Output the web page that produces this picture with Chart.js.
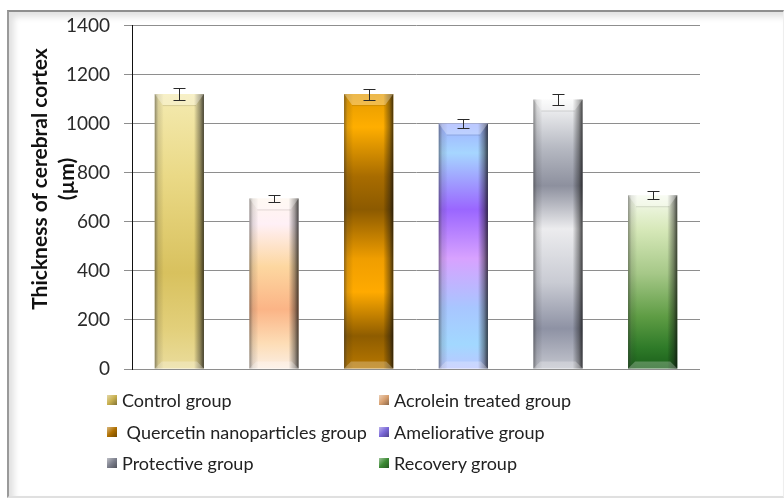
<!DOCTYPE html>
<html>
<head>
<meta charset="utf-8">
<script src="https://cdn.jsdelivr.net/npm/chart.js@4/dist/chart.umd.min.js"></script>
<style>
  html, body { margin: 0; padding: 0; background: #fff; }
  body { width: 784px; height: 499px; position: relative; overflow: hidden; font-family: Lato, "Open Sans", sans-serif; }
  #frame { position: absolute; left: 7px; top: 10px; width: 774px; height: 484px;
    border-left: 2px solid #9a9a9a; border-top: 2px solid #8e8e8e; border-right: 1px solid #eeeeee; border-bottom: 2px solid #e0e0e0;
    box-shadow: inset 5px 5px 6px rgba(0,0,0,0.12); }
  #wrap { position: absolute; left: 0; top: 0; width: 784px; height: 499px; }
  #ytitle { position: absolute; left: 52px; top: 179px; width: 340px; transform: translate(-50%, -50%) rotate(-90deg);
    text-align: center; font-weight: bold; font-size: 21px; line-height: 27px; color: #111; }
  #legend { position: absolute; left: 0; top: 0; width: 784px; height: 499px; pointer-events: none; }
  .item { position: absolute; font-size: 18px; color: #222; white-space: pre; line-height: 20px; }
  .mk { position: absolute; width: 10px; height: 10px; }
</style>
</head>
<body>
<div id="frame"></div>
<div id="wrap"><canvas id="c" width="784" height="499"></canvas></div>
<div id="ytitle">Thickness of cerebral cortex<br>(µm)</div>
<div id="legend"></div>
<script>
// ---- data ----
const categories = ["Control group", "Acrolein treated group", " Quercetin nanoparticles group", "Ameliorative group", "Protective group", "Recovery group"];
const thickness = [1120, 695, 1120, 1000, 1098, 708];
const errors = [24, 15, 22, 20, 24, 16];
const yTicks = [0, 200, 400, 600, 800, 1000, 1200, 1400];

// ---- styles (vertical colour stops from bar top (0) to bar bottom (1)) ----
const barStops = [
  [[0, "#f4eab0"], [0.3, "#ead986"], [0.65, "#d8c15e"], [0.85, "#e2cf7a"], [1, "#eadc9c"]],
  [[0, "#fff6ee"], [0.15, "#fff0f6"], [0.4, "#fdd7a0"], [0.65, "#fbb486"], [0.85, "#fdddb6"], [1, "#fbeee4"]],
  [[0, "#e49a00"], [0.12, "#ffae00"], [0.3, "#a86c00"], [0.42, "#8c5a00"], [0.6, "#f09e00"], [0.72, "#ffaa00"], [0.88, "#8e5c00"], [1, "#b87800"]],
  [[0, "#9fb0ff"], [0.12, "#a6d6ff"], [0.35, "#9a66ff"], [0.55, "#d8a2ff"], [0.75, "#a8c6ff"], [0.9, "#a2d8ff"], [1, "#bcc6ff"]],
  [[0, "#fafafa"], [0.18, "#b6b9c2"], [0.32, "#8d909e"], [0.48, "#ececee"], [0.68, "#c9cbd3"], [0.85, "#8e92a4"], [1, "#c4c6ce"]],
  [[0, "#f6faee"], [0.2, "#d6e8b8"], [0.45, "#a6c888"], [0.7, "#5e9c44"], [0.88, "#2e7a28"], [1, "#1a5e1a"]]
];
const legendMarks = ["#c8b050", "#d8a070", "#b07000", "#7a68d8", "#7c7f8c", "#3c8a34"];

function barGradient(ctx) {
  const chart = ctx.chart;
  const ys = chart.scales.y;
  if (!chart.chartArea || !ys) return "#ccc";
  const i = ctx.dataIndex;
  const top = ys.getPixelForValue(thickness[i]);
  const bottom = ys.getPixelForValue(0);
  if (!isFinite(top) || !isFinite(bottom) || top === bottom) return "#ccc";
  const g = chart.ctx.createLinearGradient(0, top, 0, bottom);
  barStops[i].forEach(s => g.addColorStop(s[0], s[1]));
  return g;
}

const bevelPlugin = {
  id: "bevel",
  afterDatasetsDraw(chart) {
    const ctx = chart.ctx;
    const ys = chart.scales.y;
    const meta = chart.getDatasetMeta(0);
    meta.data.forEach((bar, i) => {
      const p = bar.getProps(["x", "y", "base", "width"], true);
      const l = p.x - p.width / 2, r = p.x + p.width / 2, t = p.y, b = p.base;
      ctx.save();
      // left edge shading
      let g = ctx.createLinearGradient(l, 0, l + 9, 0);
      g.addColorStop(0, "rgba(40,40,40,0.5)");
      g.addColorStop(0.4, "rgba(60,60,60,0.15)");
      g.addColorStop(1, "rgba(0,0,0,0)");
      ctx.fillStyle = g; ctx.fillRect(l, t, 9, b - t);
      // right edge shading
      g = ctx.createLinearGradient(r - 10, 0, r, 0);
      g.addColorStop(0, "rgba(0,0,0,0)");
      g.addColorStop(0.6, "rgba(20,20,20,0.4)");
      g.addColorStop(1, "rgba(10,10,10,0.75)");
      ctx.fillStyle = g; ctx.fillRect(r - 10, t, 10, b - t);
      // top bevel
      ctx.beginPath();
      ctx.moveTo(l, t); ctx.lineTo(r, t); ctx.lineTo(r - 8, t + 11); ctx.lineTo(l + 8, t + 11); ctx.closePath();
      ctx.fillStyle = "rgba(255,255,255,0.3)"; ctx.fill();
      ctx.beginPath(); ctx.moveTo(l + 8, t + 11.5); ctx.lineTo(r - 8, t + 11.5);
      ctx.strokeStyle = "rgba(0,0,0,0.12)"; ctx.lineWidth = 1; ctx.stroke();
      // bottom bevel
      ctx.beginPath();
      ctx.moveTo(l + 7, b - 7); ctx.lineTo(r - 7, b - 7); ctx.lineTo(r, b); ctx.lineTo(l, b); ctx.closePath();
      ctx.fillStyle = "rgba(255,255,255,0.25)"; ctx.fill();
      ctx.restore();
      // error bar
      const yt = ys.getPixelForValue(thickness[i] + errors[i]);
      const yb = ys.getPixelForValue(thickness[i] - errors[i]);
      const cx = Math.round(p.x) + 0.5;
      ctx.save();
      ctx.strokeStyle = "#2a2a2a"; ctx.lineWidth = 1;
      ctx.beginPath();
      ctx.moveTo(cx, Math.round(yt) + 0.5); ctx.lineTo(cx, Math.round(yb) + 0.5);
      ctx.moveTo(cx - 6, Math.round(yt) + 0.5); ctx.lineTo(cx + 6, Math.round(yt) + 0.5);
      ctx.moveTo(cx - 6, Math.round(yb) + 0.5); ctx.lineTo(cx + 6, Math.round(yb) + 0.5);
      ctx.stroke();
      ctx.restore();
    });
  }
};

new Chart(document.getElementById("c"), {
  type: "bar",
  data: {
    labels: categories,
    datasets: [{
      data: thickness,
      backgroundColor: barGradient,
      borderWidth: 0,
      categoryPercentage: 1,
      barPercentage: 0.52
    }]
  },
  options: {
    responsive: false,
    animation: false,
    events: [],
    layout: { padding: { left: 0, right: 84, top: 25, bottom: 130 } },
    plugins: { legend: { display: false }, tooltip: { enabled: false } },
    scales: {
      x: { display: false },
      y: {
        min: 0, max: 1400,
        afterFit(scale) { scale.width = 132; },
        afterBuildTicks(scale) { scale.ticks = yTicks.map(v => ({ value: v })); },
        ticks: { font: { family: "Lato", size: 19 }, color: "#2a2a2a", padding: 14, callback: v => String(v) },
        grid: { color: "#8e8e8e", lineWidth: 1, tickLength: 8, drawTicks: true },
        border: { color: "#111", width: 1 }
      }
    }
  },
  plugins: [bevelPlugin]
});

// ---- legend (HTML) ----
const leg = document.getElementById("legend");
const colX = [107, 379];
const rowY = [400, 432, 463];
categories.forEach((name, i) => {
  const col = i % 2, row = Math.floor(i / 2);
  const mk = document.createElement("div");
  mk.className = "mk";
  mk.style.left = colX[col] + "px";
  mk.style.top = (rowY[row] - 5) + "px";
  mk.style.background = "linear-gradient(135deg, rgba(255,255,255,0.5), rgba(0,0,0,0) 50%, rgba(0,0,0,0.35)), " + legendMarks[i];
  leg.appendChild(mk);
  const t = document.createElement("div");
  t.className = "item";
  t.textContent = name;
  t.style.left = (colX[col] + 15) + "px";
  t.style.top = (rowY[row] - 10) + "px";
  leg.appendChild(t);
});
</script>
</body>
</html>
